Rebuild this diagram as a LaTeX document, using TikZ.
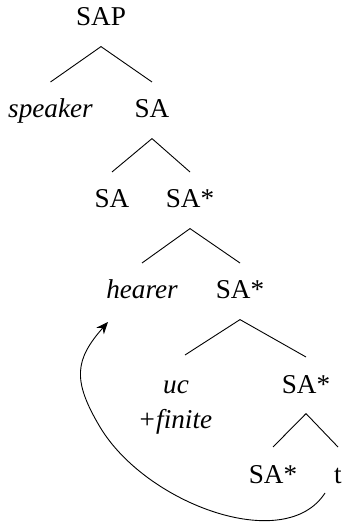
\documentclass[tikz,border=0pt]{standalone}
\usepackage{fontspec}
\setmainfont{Liberation Serif}
\usetikzlibrary{arrows.meta}
\begin{document}
\begin{tikzpicture}[x=0.5pt,y=-0.5pt,
  lab/.style={anchor=base,inner sep=0pt,font=\fontsize{13.6}{16}\selectfont},
  it/.style={lab,font=\fontsize{13.6}{16}\selectfont\itshape},
  branch/.style={line width=0.45pt}]
\useasboundingbox (0,0) rectangle (345,522);
\node[lab] (SAP) at (101,26) {SAP};
\node[it]  (spk) at (50.5,118) {speaker};
\node[lab] (SAa) at (152,118) {SA};
\node[lab] (SAb) at (112,208) {SA};
\node[lab] (SAc) at (190,208) {SA*};
\node[it]  (hea) at (142,299) {hearer};
\node[lab] (SAd) at (240,299) {SA*};
\node[it]  (uc)  at (176,393) {uc};
\node[it]  (fin) at (175,428) {+finite};
\node[lab] (SAe) at (306,393) {SA*};
\node[lab] (SAf) at (273,483) {SA*};
\node[lab] (t)   at (338,483) {t};
% branches
\foreach \p/\c in {SAP/spk,SAP/SAa,SAa/SAb,SAa/SAc,SAc/hea,SAc/SAd,SAd/SAe,SAe/SAf,SAe/t}
  \draw[branch] ([yshift=-10.3pt]\p.base) -- ([yshift=18pt]\c.base);
\draw[branch] ([yshift=-10.3pt]SAd.base) -- ([xshift=4.5pt,yshift=19pt]uc.base);
% movement arrow
\coordinate (bend) at (100,427);
\draw[line width=0.45pt,-{Stealth[length=6pt,width=5pt]}]
  ([xshift=-6.5pt,yshift=-5pt]t.base) .. controls +(-40,62) and +(46,77) .. (bend)
  .. controls +(-28,-47) and +(-33,37.5) .. ([xshift=-17pt,yshift=-11.5pt]hea.base);
\end{tikzpicture}
\end{document}
